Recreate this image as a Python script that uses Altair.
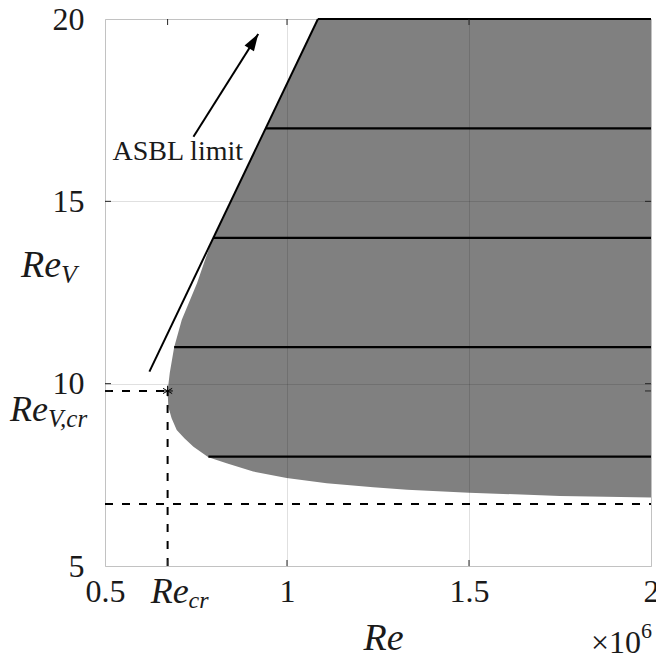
import altair as alt
import pandas as pd

# ---------------- data ----------------
# left boundary of the unstable (gray) region: Re (x1e6) as a function of Re_V
bnd_rev = [6.88, 6.92, 7.01, 7.09, 7.16, 7.27, 7.41, 7.59, 7.82, 7.98, 8.27, 8.50,
           8.73, 9.05, 9.36, 9.80, 10.30, 11.00, 11.75, 12.76, 13.40, 14.00, 17.00, 20.00]
bnd_re = [2.000, 1.750, 1.500, 1.330, 1.237, 1.109, 0.999, 0.907, 0.834, 0.784, 0.743, 0.718,
          0.697, 0.683, 0.674, 0.672, 0.678, 0.690, 0.711, 0.753, 0.775, 0.797, 0.942, 1.085]

# horizontal black lines inside the region
level_rev = [8, 11, 14, 17, 20]
level_re_left = [0.784, 0.690, 0.797, 0.942, 1.085]

# ASBL limit line
asbl_re = [0.622, 1.085]
asbl_rev = [10.33, 20.0]

# arrow (tail -> tip)
arrow_re = [0.743, 0.921]
arrow_rev = [16.77, 19.59]

# critical point
re_cr = 0.672
rev_cr = 9.80
rev_min = 6.70

x_domain = [0.5, 2.0]
y_domain = [5, 20]
x_ticks = [0.5, 1, 1.5, 2]
y_ticks = [5, 10, 15, 20]
x_inner_ticks = [re_cr, 1, 1.5]
y_inner_ticks = [rev_cr, 10, 15]

# annotation anchors (data units)
asbl_text_pos = (0.700, 16.13)
rev_title_y = 12.93

# ---------------- styling ----------------
W, H = 546, 547
FONT = "Liberation Serif"
GRAY = "#808080"
AXC = "#262626"
TICK_FS = 32
TITLE_FS = 38
SUB_FS = 26

xs = alt.Scale(domain=x_domain, nice=False, zero=False)
ys = alt.Scale(domain=y_domain, nice=False, zero=False)

area_df = pd.DataFrame({"rev": bnd_rev, "re": bnd_re,
                        "re_max": [x_domain[1]] * len(bnd_rev)})

x_axis = alt.Axis(values=x_ticks, format="~g", labelFont=FONT, labelFontSize=TICK_FS,
                  labelColor="#1a1a1a", labelPadding=10, tickSize=0, domain=False,
                  grid=True, gridColor="#000000", gridOpacity=0.12, gridWidth=1,
                  title="Re", titleFont=FONT, titleFontSize=TITLE_FS, titleFontStyle="italic",
                  titleFontWeight="normal", titleColor="#1a1a1a", titleBaseline="alphabetic",
                  titleY=83, titleX=W / 2 + 5, zindex=1, labelFlush=False, labelOverlap=False)
y_axis = alt.Axis(values=y_ticks, format="d", labelFont=FONT, labelFontSize=TICK_FS,
                  labelColor="#1a1a1a", labelPadding=21, tickSize=0, domain=False,
                  grid=True, gridColor="#000000", gridOpacity=0.12, gridWidth=1,
                  title=None, zindex=1, labelFlush=False, labelOverlap=False)

area = alt.Chart(area_df).mark_area(orient="horizontal", color=GRAY, opacity=1,
                                     interpolate="linear").encode(
    y=alt.Y("rev:Q", scale=ys, axis=y_axis),
    x=alt.X("re:Q", scale=xs, axis=x_axis),
    x2="re_max:Q",
)

lev_df = pd.DataFrame({"rev": level_rev, "re": level_re_left,
                       "re_max": [x_domain[1]] * len(level_rev)})
levels = alt.Chart(lev_df).mark_rule(color="black", strokeWidth=2.2).encode(
    y=alt.Y("rev:Q", scale=ys), x=alt.X("re:Q", scale=xs), x2="re_max:Q")

asbl_df = pd.DataFrame({"re": [asbl_re[0]], "rev": [asbl_rev[0]],
                        "re2": [asbl_re[1]], "rev2": [asbl_rev[1]]})
asbl = alt.Chart(asbl_df).mark_rule(color="black", strokeWidth=2).encode(
    x=alt.X("re:Q", scale=xs), y=alt.Y("rev:Q", scale=ys), x2="re2:Q", y2="rev2:Q")

arrow_df = pd.DataFrame({"re": [arrow_re[0]], "rev": [arrow_rev[0]],
                         "re2": [arrow_re[1]], "rev2": [arrow_rev[1]]})
arrow_line = alt.Chart(arrow_df).mark_rule(color="black", strokeWidth=2).encode(
    x=alt.X("re:Q", scale=xs), y=alt.Y("rev:Q", scale=ys), x2="re2:Q", y2="rev2:Q")
head_df = pd.DataFrame({"re": [arrow_re[1]], "rev": [arrow_rev[1]]})
arrow_head = alt.Chart(head_df).mark_point(
    shape="M0,0L-0.65,2L0.65,2Z", size=289, filled=True, color="black",
    opacity=1, angle=32).encode(x=alt.X("re:Q", scale=xs), y=alt.Y("rev:Q", scale=ys))

dash_df = pd.DataFrame({
    "x1": [re_cr, x_domain[0], x_domain[0]],
    "x2": [re_cr, re_cr, x_domain[1]],
    "y1": [y_domain[0], rev_cr, rev_min],
    "y2": [rev_cr, rev_cr, rev_min],
})
dashes = alt.Chart(dash_df).mark_rule(color="black", strokeWidth=2, strokeDash=[8, 9]).encode(
    x=alt.X("x1:Q", scale=xs), x2="x2:Q", y=alt.Y("y1:Q", scale=ys), y2="y2:Q")

star_df = pd.DataFrame({"re": [re_cr], "rev": [rev_cr]})
star = alt.Chart(star_df).mark_point(
    shape="M0,-1L0,1M-0.87,-0.5L0.87,0.5M-0.87,0.5L0.87,-0.5M-1,0L1,0",
    size=110, filled=False, color="black", strokeWidth=1, opacity=1).encode(
    x=alt.X("re:Q", scale=xs), y=alt.Y("rev:Q", scale=ys))

# inward ticks on all four sides
xt_df = pd.DataFrame({"v": x_inner_ticks})
yt_df = pd.DataFrame({"v": y_inner_ticks})
ticks_b = alt.Chart(xt_df).mark_rule(color=AXC, strokeWidth=1).encode(
    x=alt.X("v:Q", scale=xs), y=alt.value(H), y2=alt.value(H - 6))
ticks_t = alt.Chart(xt_df).mark_rule(color=AXC, strokeWidth=1).encode(
    x=alt.X("v:Q", scale=xs), y=alt.value(0), y2=alt.value(6))
ticks_l = alt.Chart(yt_df).mark_rule(color=AXC, strokeWidth=1).encode(
    y=alt.Y("v:Q", scale=ys), x=alt.value(0), x2=alt.value(6))
ticks_r = alt.Chart(yt_df).mark_rule(color=AXC, strokeWidth=1).encode(
    y=alt.Y("v:Q", scale=ys), x=alt.value(W), x2=alt.value(W - 6))


def txt(x, y, text, dx, dy, size, align, style="normal"):
    df = pd.DataFrame({"x": [x], "y": [y], "t": [text]})
    return alt.Chart(df).mark_text(
        dx=dx, dy=dy, fontSize=size, font=FONT, fontStyle=style, align=align,
        baseline="alphabetic", color="#1a1a1a").encode(
        x=alt.X("x:Q", scale=xs), y=alt.Y("y:Q", scale=ys), text="t:N")


texts = [
    txt(re_cr, y_domain[0], "Re", 21, 37, TITLE_FS - 2, "right", "italic"),
    txt(re_cr, y_domain[0], "cr", 21, 42, SUB_FS - 2, "left", "italic"),
    txt(x_domain[0], rev_cr, "Re", -57, 30, TITLE_FS - 2, "right", "italic"),
    txt(x_domain[0], rev_cr, "V,cr", -57, 36, SUB_FS - 1, "left", "italic"),
    txt(x_domain[0], rev_title_y, "Re", -44, 0, TITLE_FS, "right", "italic"),
    txt(x_domain[0], rev_title_y, "V", -44, 6, SUB_FS, "left", "italic"),
    txt(x_domain[1], y_domain[0], "×10", -10, 87, 32, "right"),
    txt(x_domain[1], y_domain[0], "6", -10, 72, 22, "left"),
    txt(asbl_text_pos[0], asbl_text_pos[1], "ASBL limit", 0, 0, 28, "center"),
]

chart = alt.layer(
    area, levels, asbl, arrow_line, arrow_head, dashes, star,
    ticks_b, ticks_t, ticks_l, ticks_r, *texts
).properties(
    width=W, height=H,
    autosize=alt.AutoSizeParams(type="none"),
    padding={"left": 105, "top": 19, "right": 5, "bottom": 98},
).configure_view(stroke=AXC, strokeWidth=1.2).configure(background="white")

chart.save("out.html", embed_options={"renderer": "svg", "actions": False})
